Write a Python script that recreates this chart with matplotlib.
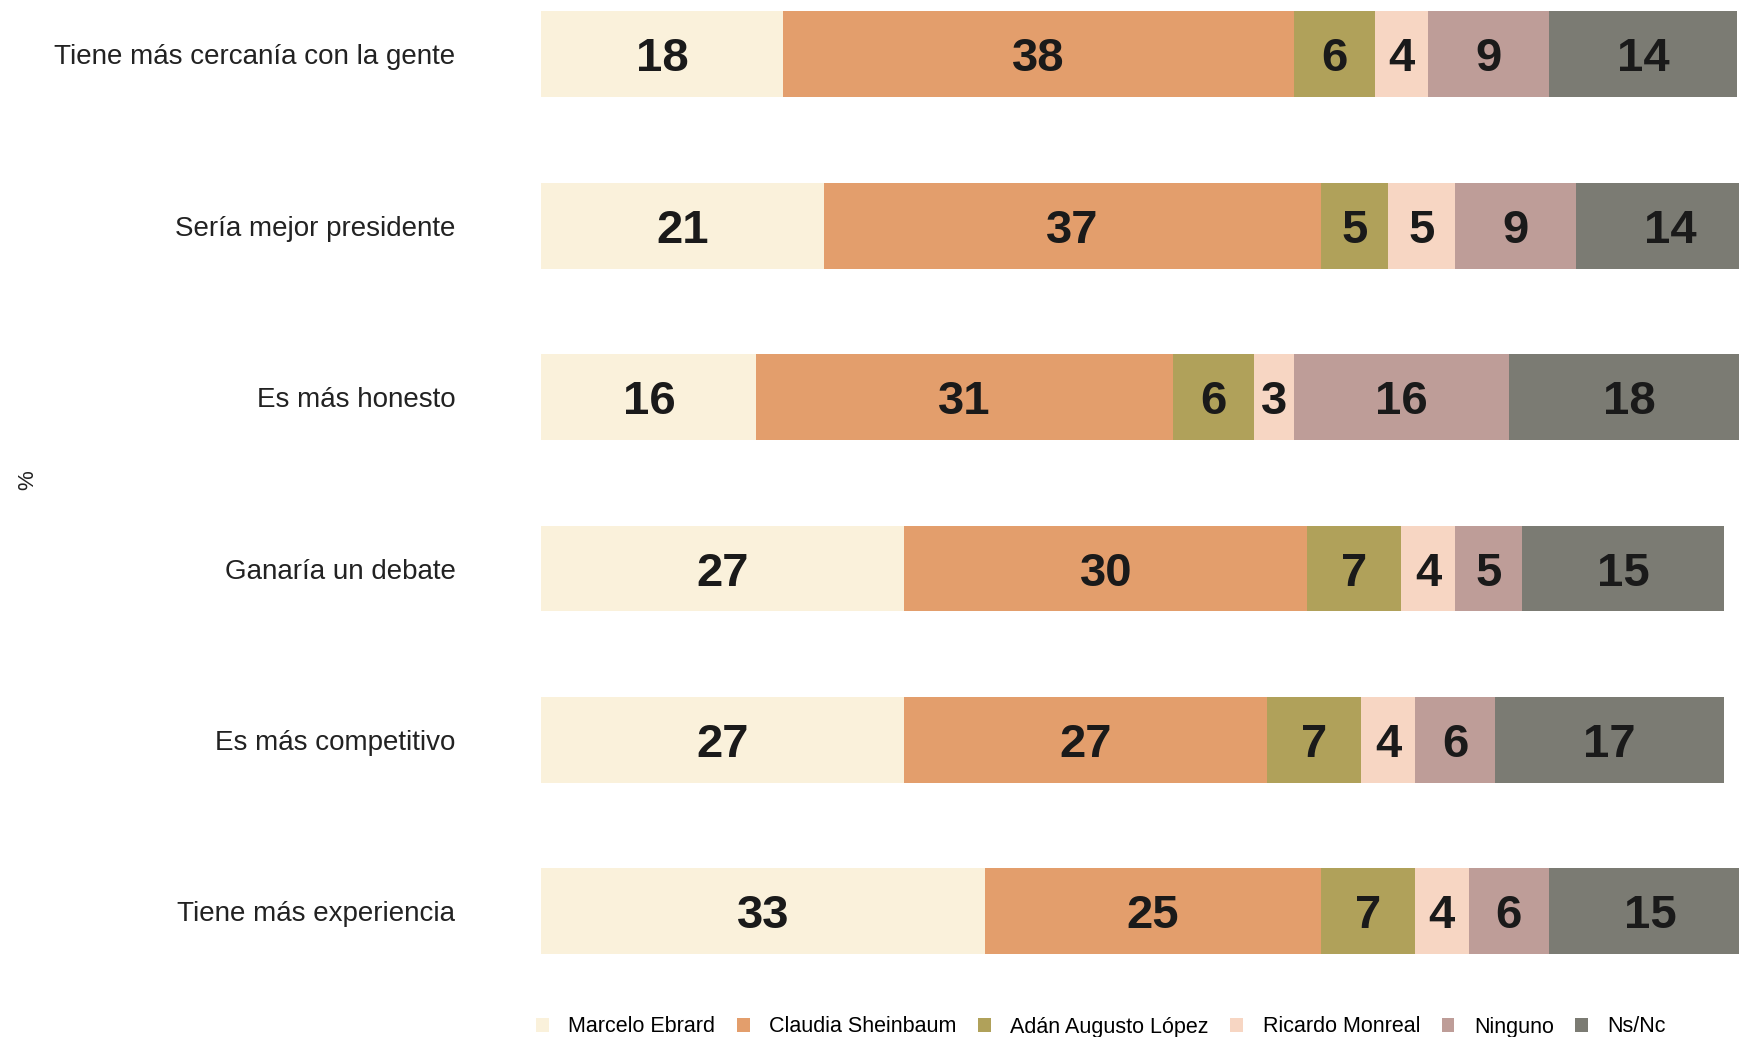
import matplotlib.pyplot as plt
import numpy as np

plt.rcParams['font.family'] = ['Liberation Sans', 'DejaVu Sans']

# data
categories = ['Tiene más cercanía con la gente', 'Sería mejor presidente', 'Es más honesto',
              'Ganaría un debate', 'Es más competitivo', 'Tiene más experiencia']
series = ['Marcelo Ebrard', 'Claudia Sheinbaum', 'Adán Augusto López',
          'Ricardo Monreal', 'Ninguno', 'Ns/Nc']
ebrard = [18, 21, 16, 27, 27, 33]
sheinbaum = [38, 37, 31, 30, 27, 25]
adan = [6, 5, 6, 7, 7, 7]
monreal = [4, 5, 3, 4, 4, 4]
ninguno = [9, 9, 16, 5, 6, 6]
nsnc = [14, 14, 18, 15, 17, 15]
values = [ebrard, sheinbaum, adan, monreal, ninguno, nsnc]
colors = ['#FAF1DB', '#E39E6C', '#B0A15A', '#F7D6C3', '#BE9D98', '#7B7B73']

fig = plt.figure(figsize=(17.4, 10.37), dpi=100)
ax = fig.add_axes([541.5 / 1740, 77 / 1037, 1 - 541.5 / 1740, 960 / 1037])

y = np.arange(len(categories))
left = np.zeros(len(categories))
for name, vals, col in zip(series, values, colors):
    vals = np.array(vals, dtype=float)
    ax.barh(y, vals, left=left, height=0.5, color=col, label=name, linewidth=0)
    for yi, l, v in zip(y, left, vals):
        ax.text(l + v / 2, yi, f'{int(v)}', ha='center', va='center_baseline',
                fontsize=34, fontweight='bold', color='#1a1a1a')
    left += vals

ax.set_xlim(0, 89.2)
ax.set_ylim(5.284, -0.317)
ax.set_yticks(y)
ax.set_yticklabels(categories, fontsize=20, color='#222222')
ax.tick_params(axis='y', length=0, pad=62)
ax.set_xticks([])
for s in ax.spines.values():
    s.set_visible(False)

fig.text(28 / 1740, 1 - 480 / 1037, '%', rotation=90, ha='center', va='center',
         fontsize=16, color='#222222')

handles, labels = ax.get_legend_handles_labels()
fig.legend(handles, labels, loc='center', bbox_to_anchor=(1101 / 1740, 1 - 1027 / 1037),
           ncol=6, frameon=False, fontsize=15.5, handlelength=0.6, handleheight=0.6,
           handletextpad=0.9, columnspacing=1.0)

fig.savefig('out.png', dpi=100, facecolor='white')
